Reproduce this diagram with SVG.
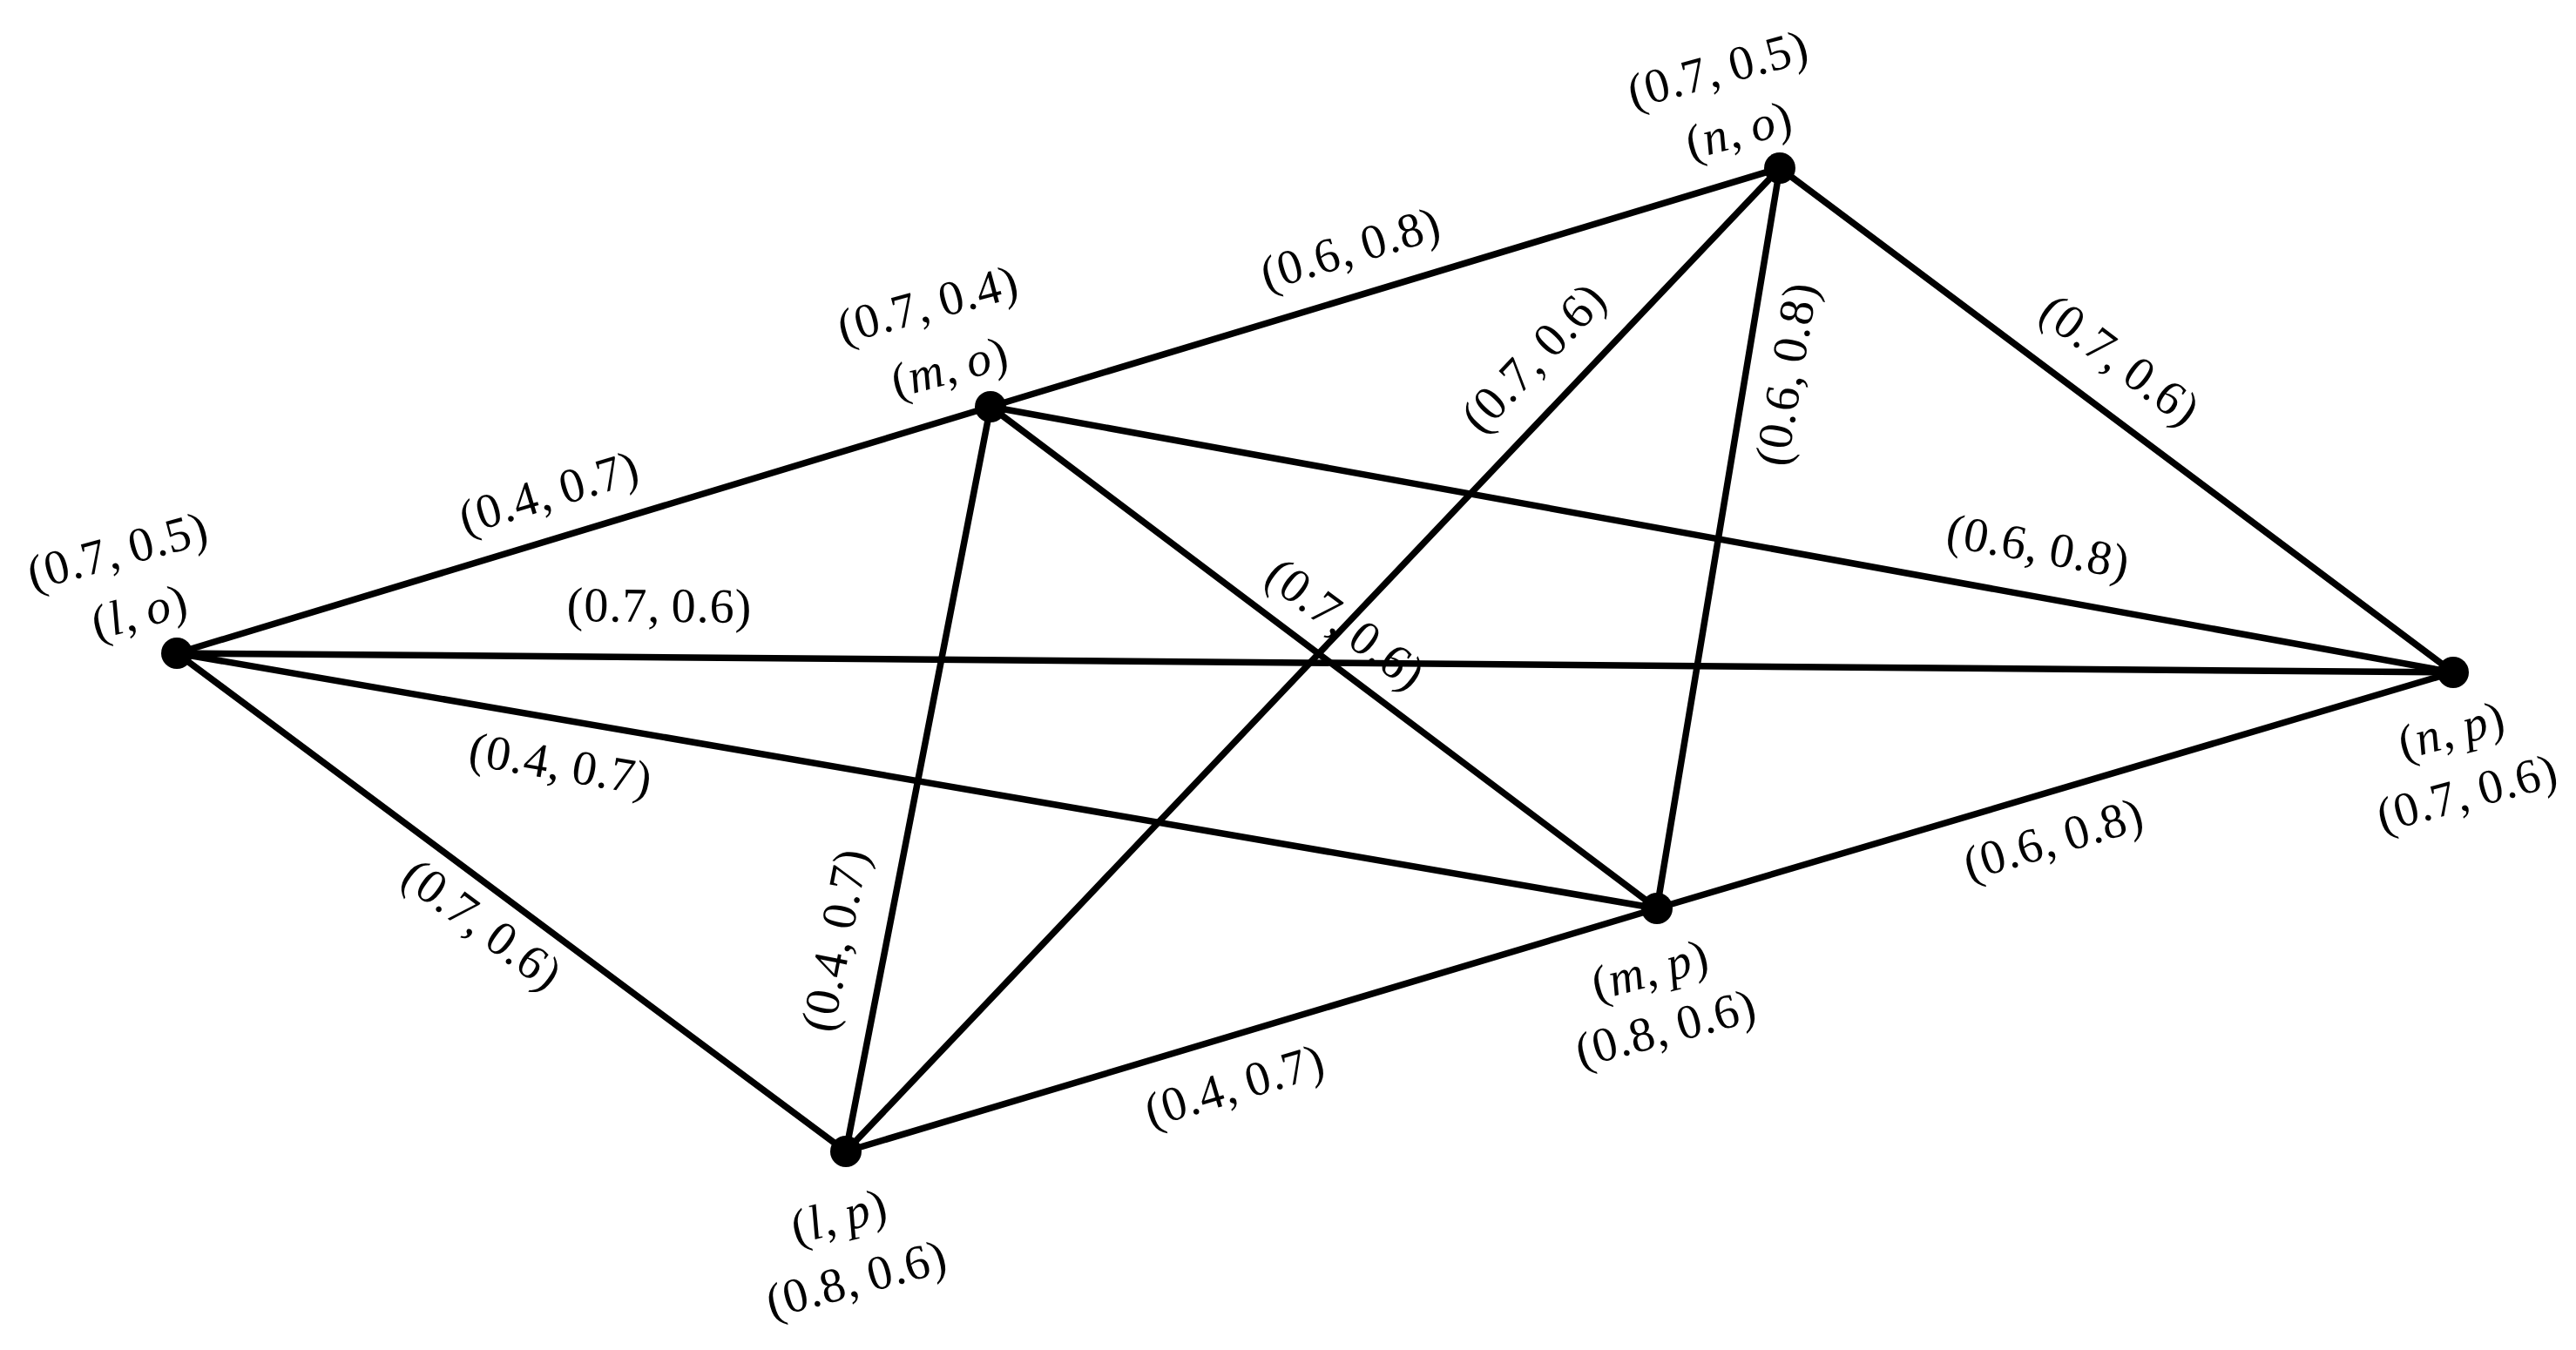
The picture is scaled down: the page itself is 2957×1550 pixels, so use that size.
<svg xmlns="http://www.w3.org/2000/svg" width="2957" height="1550" viewBox="0 0 2957 1550">
<style>
.e{stroke:#000;stroke-width:7.5;fill:none;stroke-linecap:round}
.d{fill:#000}
text{font-family:"Liberation Serif","Times New Roman",serif;font-size:56px;fill:#000;text-anchor:middle;dominant-baseline:central;letter-spacing:1px}
.i{font-style:italic}
</style>
<rect width="2957" height="1550" fill="#fff"/>
<g id="connectors">
<line class="e" x1="203" y1="750" x2="1137" y2="467"/>
<line class="e" x1="1137" y1="467" x2="2043" y2="193"/>
<line class="e" x1="2043" y1="193" x2="2816" y2="772"/>
<line class="e" x1="203" y1="750" x2="2816" y2="772"/>
<line class="e" x1="1137" y1="467" x2="2816" y2="772"/>
<line class="e" x1="203" y1="750" x2="1902" y2="1043"/>
<line class="e" x1="203" y1="750" x2="971" y2="1322"/>
<line class="e" x1="1137" y1="467" x2="971" y2="1322"/>
<line class="e" x1="1137" y1="467" x2="1902" y2="1043"/>
<line class="e" x1="2043" y1="193" x2="971" y2="1322"/>
<line class="e" x1="2043" y1="193" x2="1902" y2="1043"/>
<line class="e" x1="971" y1="1322" x2="1902" y2="1043"/>
<line class="e" x1="1902" y1="1043" x2="2816" y2="772"/>
<text x="630" y="565" transform="rotate(-16.9 630 565)">(0.4,&#8201;0.7)</text>
<text x="1550" y="285" transform="rotate(-16.8 1550 285)">(0.6,&#8201;0.8)</text>
<text x="2434" y="413" transform="rotate(36.8 2434 413)">(0.7,&#8201;0.6)</text>
<text x="757" y="695" transform="rotate(0.5 757 695)">(0.7,&#8201;0.6)</text>
<text x="2340" y="627" transform="rotate(10.3 2340 627)">(0.6,&#8201;0.8)</text>
<text x="644" y="877" transform="rotate(9.8 644 877)">(0.4,&#8201;0.7)</text>
<text x="554" y="1061" transform="rotate(36.7 554 1061)">(0.7,&#8201;0.6)</text>
<text x="958" y="1079" transform="rotate(-79 958 1079)">(0.4,&#8201;0.7)</text>
<text x="1545" y="716" transform="rotate(37 1545 716)">(0.7,&#8201;0.6)</text>
<text x="1760" y="410" transform="rotate(-46.5 1760 410)">(0.7,&#8201;0.6)</text>
<text x="2050" y="429" transform="rotate(-80.6 2050 429)">(0.6,&#8201;0.8)</text>
<text x="1417" y="1246" transform="rotate(-16.7 1417 1246)">(0.4,&#8201;0.7)</text>
<text x="2357" y="963" transform="rotate(-16.5 2357 963)">(0.6,&#8201;0.8)</text>
</g>
<g id="node-lo">
<circle class="d" cx="203" cy="750" r="18"/>
<text x="135" y="632" transform="rotate(-15 135 632)">(0.7,&#8201;0.5)</text>
<text x="160" y="702" transform="rotate(-15 160 702)">(<tspan class="i">l</tspan>,&#8201;<tspan class="i">o</tspan>)</text>
</g>
<g id="node-mo">
<circle class="d" cx="1137" cy="467" r="18"/>
<text x="1065" y="349" transform="rotate(-15 1065 349)">(0.7,&#8201;0.4)</text>
<text x="1090" y="421" transform="rotate(-15 1090 421)">(<tspan class="i">m</tspan>,&#8201;<tspan class="i">o</tspan>)</text>
</g>
<g id="node-no">
<circle class="d" cx="2043" cy="193" r="18"/>
<text x="1972" y="79" transform="rotate(-15 1972 79)">(0.7,&#8201;0.5)</text>
<text x="1996" y="149" transform="rotate(-15 1996 149)">(<tspan class="i">n</tspan>,&#8201;<tspan class="i">o</tspan>)</text>
</g>
<g id="node-np">
<circle class="d" cx="2816" cy="772" r="18"/>
<text x="2814" y="838" transform="rotate(-15 2814 838)">(<tspan class="i">n</tspan>,&#8201;<tspan class="i">p</tspan>)</text>
<text x="2832" y="910" transform="rotate(-15 2832 910)">(0.7,&#8201;0.6)</text>
</g>
<g id="node-mp">
<circle class="d" cx="1902" cy="1043" r="18"/>
<text x="1894" y="1113" transform="rotate(-15 1894 1113)">(<tspan class="i">m</tspan>,&#8201;<tspan class="i">p</tspan>)</text>
<text x="1912" y="1180" transform="rotate(-15 1912 1180)">(0.8,&#8201;0.6)</text>
</g>
<g id="node-lp">
<circle class="d" cx="971" cy="1322" r="18"/>
<text x="963" y="1396" transform="rotate(-15 963 1396)">(<tspan class="i">l</tspan>,&#8201;<tspan class="i">p</tspan>)</text>
<text x="983" y="1468" transform="rotate(-15 983 1468)">(0.8,&#8201;0.6)</text>
</g>
</svg>
